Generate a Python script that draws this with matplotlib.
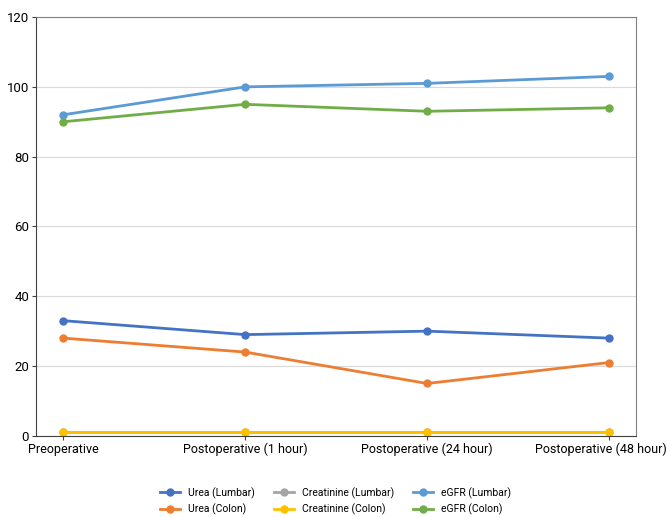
import matplotlib.pyplot as plt
import matplotlib.transforms as mtransforms

plt.rcParams['font.family'] = ['Roboto', 'DejaVu Sans']

stages = ['Preoperative', 'Postoperative (1 hour)', 'Postoperative (24 hour)', 'Postoperative (48 hour)']

urea_lumbar = [33, 29, 30, 28]
urea_colon = [28, 24, 15, 21]
creat_lumbar = [1.0, 1.0, 1.0, 1.0]
creat_colon = [1.0, 1.0, 1.0, 1.0]
egfr_lumbar = [92, 100, 101, 103]
egfr_colon = [90, 95, 93, 94]

series = [
    ('Urea (Lumbar)', urea_lumbar, '#4472C4'),
    ('Urea (Colon)', urea_colon, '#ED7D31'),
    ('Creatinine (Lumbar)', creat_lumbar, '#A5A5A5'),
    ('Creatinine (Colon)', creat_colon, '#FFC000'),
    ('eGFR (Lumbar)', egfr_lumbar, '#5B9BD5'),
    ('eGFR (Colon)', egfr_colon, '#70AD47'),
]

fig = plt.figure(figsize=(6.67, 5.17), dpi=100)
ax = fig.add_axes([0.054, 0.157, 0.9, 0.81])

x = list(range(len(stages)))
for name, vals, col in series:
    ax.plot(x, vals, color=col, lw=2, marker='o', ms=5, label=name)

ax.set_xlim(-0.15, 3.15)
ax.set_ylim(0, 120)
ax.set_yticks(range(0, 121, 20))
ax.set_xticks(x)
ax.set_xticklabels(stages, fontsize=9)
ax.grid(axis='y', color='#d9d9d9', lw=0.8)
ax.set_axisbelow(True)
ax.tick_params(axis='y', labelsize=9.5)
ax.tick_params(length=3, color='#404040', pad=2)

# last label would run off the right edge: nudge it left a little
last = ax.get_xticklabels()[-1]
last.set_transform(last.get_transform() + mtransforms.ScaledTranslation(-0.08, 0, fig.dpi_scale_trans))

for s in ['left', 'bottom']:
    ax.spines[s].set_color('#404040')
for s in ['top', 'right']:
    ax.spines[s].set_color('#808080')

fig.legend(loc='upper center', bbox_to_anchor=(0.503, 0.072), ncol=3, frameon=False,
           fontsize=7.5, handlelength=1.9, columnspacing=1.8, labelspacing=0.5,
           borderpad=0.2)

fig.savefig('out.png')
